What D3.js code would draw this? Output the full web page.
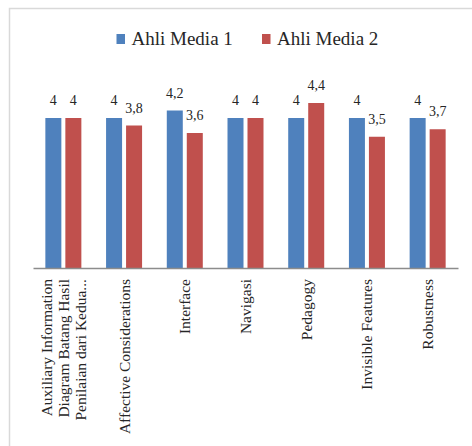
<!DOCTYPE html>
<html lang="en">
<head>
    <meta charset="UTF-8">
    <title>ahli media</title>
    <script src="https://cdn.jsdelivr.net/npm/d3@7"></script>
    <style>
        body{ margin: 0; background: #fff; }
        svg text{ fill: #262626; }
    </style>
</head>
<body>
<svg id="chart" width="472" height="446"></svg>

<script>
    // data
    let categories = [
        ["Auxiliary Information", "Diagram Batang Hasil", "Penilaian dari Kedua..."],
        ["Affective Considerations"],
        ["Interface"],
        ["Navigasi"],
        ["Pedagogy"],
        ["Invisible Features"],
        ["Robustness"]
    ]
    let series = ["Ahli Media 1", "Ahli Media 2"]
    let media1 = [4, 4, 4.2, 4, 4, 4, 4]
    let media2 = [4, 3.8, 3.6, 4, 4.4, 3.5, 3.7]
    let colors = ["#4f81bd", "#c0504d"]

    let serif = "'Liberation Serif', 'Times New Roman', serif"
    let svg = d3.select("#chart")

    // frame of the chart area (runs off the page on the right and bottom)
    svg.append("rect")
        .attr("x", 9.5).attr("y", 8.5)
        .attr("width", 500).attr("height", 500)
        .attr("fill", "none")
        .attr("stroke", "#d9d9d9")
        .attr("stroke-width", 1.5)

    let idx = d3.range(categories.length)
    let x0 = d3.scaleBand()
        .domain(idx)
        .range([33, 458])
        .paddingInner(0.407)
        .paddingOuter(0.2035)

    let x1 = d3.scaleBand()
        .domain(series)
        .range([0, x0.bandwidth()])
        .paddingInner(0.2)

    let y = d3.scaleLinear()
        .domain([0, 5])
        .range([268, 80.5])

    let rows = idx.map(function (i) {
        return [
            {s: series[0], v: media1[i], c: colors[0]},
            {s: series[1], v: media2[i], c: colors[1]}
        ]
    })

    let groups = svg.selectAll(".cat")
        .data(rows)
        .enter()
        .append("g")
        .attr("class", "cat")
        .attr("transform", function (d, i) { return "translate(" + x0(i) + ",0)" })

    groups.selectAll("rect")
        .data(function (d) { return d })
        .enter()
        .append("rect")
        .attr("x", function (d) { return x1(d.s) })
        .attr("y", function (d) { return y(d.v) })
        .attr("width", x1.bandwidth())
        .attr("height", function (d) { return y(0) - y(d.v) })
        .attr("fill", function (d) { return d.c })

    // value labels, comma decimals
    groups.selectAll(".val")
        .data(function (d) { return d })
        .enter()
        .append("text")
        .attr("class", "val")
        .attr("x", function (d) { return x1(d.s) + x1.bandwidth() / 2 })
        .attr("y", function (d) { return y(d.v) - 13 })
        .attr("text-anchor", "middle")
        .style("font-family", serif)
        .style("font-size", "14px")
        .text(function (d) { return String(d.v).replace(".", ",") })

    // x axis line, no ticks
    let xAxis = svg.append("g")
        .attr("transform", "translate(0," + y(0) + ")")
        .call(d3.axisBottom(x0).tickSize(0).tickFormat(""))
    xAxis.select(".domain")
        .attr("stroke", "#8c8c8c")
        .attr("stroke-width", 1.5)

    // rotated category labels
    let labels = svg.selectAll(".xlab")
        .data(categories)
        .enter()
        .append("text")
        .attr("class", "xlab")
        .attr("text-anchor", "end")
        .style("font-family", serif)
        .style("font-size", "15.5px")
        .attr("transform", function (d, i) {
            return "translate(" + (x0(i) + x0.bandwidth() / 2) + ",279) rotate(-90)"
        })

    labels.selectAll("tspan")
        .data(function (d) { return d })
        .enter()
        .append("tspan")
        .attr("x", 0)
        .attr("y", function (d, j, nodes) {
            return (j - (nodes.length - 1) / 2) * 17 + 5.5
        })
        .text(function (d) { return d })

    // legend
    let legendX = [116.5, 262]
    let legend = svg.selectAll(".leg")
        .data(series)
        .enter()
        .append("g")
        .attr("class", "leg")
        .attr("transform", function (d, i) { return "translate(" + legendX[i] + ",34)" })

    legend.append("rect")
        .attr("width", 8.5)
        .attr("height", 10)
        .attr("fill", function (d, i) { return colors[i] })

    legend.append("text")
        .attr("x", 15)
        .attr("y", 11)
        .style("font-family", serif)
        .style("font-size", "19px")
        .text(function (d) { return d })
</script>
</body>
</html>
